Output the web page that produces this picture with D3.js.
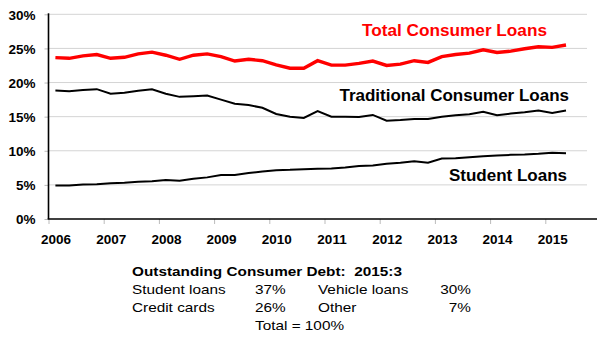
<!DOCTYPE html>
<html>
<head>
<meta charset="utf-8">
<script src="https://cdn.jsdelivr.net/npm/d3@7"></script>
<style>
  body { margin: 0; background: #fff; }
  svg { display: block; font-family: "Liberation Sans", Arial, sans-serif; }
</style>
</head>
<body>
<div id="chart"></div>
<script>
// quarterly shares of disposable income (%), 2006:1 - 2015:2
const startYear = 2006;
const total = [23.65, 23.55, 23.9, 24.1, 23.55, 23.7, 24.2, 24.45, 24.0, 23.4,
  24.0, 24.2, 23.8, 23.15, 23.4, 23.2, 22.6, 22.1, 22.1, 23.2,
  22.55, 22.55, 22.8, 23.15, 22.5, 22.7, 23.2, 22.95, 23.8, 24.1,
  24.3, 24.8, 24.4, 24.6, 24.95, 25.25, 25.15, 25.5];
const traditional = [18.84, 18.74, 18.9, 19.03, 18.35, 18.5, 18.8, 19.0, 18.35, 17.9,
  18.0, 18.1, 17.5, 16.9, 16.7, 16.3, 15.4, 15.0, 14.8, 15.8,
  15.0, 15.0, 14.95, 15.25, 14.4, 14.5, 14.65, 14.65, 15.0, 15.2,
  15.35, 15.7, 15.2, 15.45, 15.65, 15.9, 15.55, 15.9];
const student = [4.9, 4.9, 5.05, 5.1, 5.25, 5.3, 5.45, 5.55, 5.7, 5.6,
  5.9, 6.1, 6.45, 6.45, 6.75, 6.95, 7.15, 7.2, 7.3, 7.35,
  7.4, 7.55, 7.75, 7.85, 8.1, 8.25, 8.45, 8.25, 8.85, 8.9,
  9.05, 9.2, 9.3, 9.4, 9.45, 9.55, 9.7, 9.65];
const yearTicks = [2006, 2007, 2008, 2009, 2010, 2011, 2012, 2013, 2014, 2015];
const pctTicks = [0, 5, 10, 15, 20, 25, 30];
const seriesNames = ["Total Consumer Loans", "Traditional Consumer Loans", "Student Loans"];

const tableTitle = "Outstanding Consumer Debt:  2015:3";
const tableRows = [
  ["Student loans", "37%", "Vehicle loans", "30%"],
  ["Credit cards", "26%", "Other", "7%"]
];
const tableTotal = "Total = 100%";

const W = 597, H = 337;
const left = 48.5, axisY = 219, gridRight = 587;

const svg = d3.select("#chart").append("svg")
  .attr("width", W).attr("height", H);

const x = d3.scaleLinear().domain([2006, 2016]).range([left, left + 552]);
const y = d3.scaleLinear().domain([0, 30]).range([axisY, 14.3]);

// quarter midpoint
const qx = i => x(startYear + i * 0.25 + 0.125);

// gridlines
svg.append("g")
  .selectAll("line").data(pctTicks.filter(d => d > 0)).enter().append("line")
  .attr("x1", left).attr("x2", gridRight)
  .attr("y1", d => y(d)).attr("y2", d => y(d))
  .style("stroke", "#d4d4d4").style("stroke-width", 1);

// y axis
const yAxis = svg.append("g")
  .attr("transform", "translate(" + left + ",0)")
  .call(d3.axisLeft(y).tickValues(pctTicks).tickFormat(d => d + "%").tickSize(4).tickPadding(9));
yAxis.select(".domain").remove();
yAxis.selectAll(".tick line").style("stroke", "#bbb");
yAxis.selectAll("text")
  .style("font-size", "13.5px").style("font-weight", "bold").style("fill", "#000")
  .attr("dy", "0.36em");
svg.append("line")
  .attr("x1", left).attr("x2", left).attr("y1", y(30) - 1).attr("y2", axisY)
  .style("stroke", "#000").style("stroke-width", 1.6);

// x axis
const xAxis = svg.append("g")
  .attr("transform", "translate(0," + axisY + ")")
  .call(d3.axisBottom(x).tickValues(yearTicks).tickFormat(d3.format("d")).tickSize(5));
xAxis.select(".domain").remove();
xAxis.selectAll(".tick line").style("stroke", "#bbb");
xAxis.selectAll("text")
  .attr("x", 7).attr("y", 15.5)
  .style("font-size", "13.5px").style("font-weight", "bold").style("fill", "#000");
svg.append("line")
  .attr("x1", left - 0.8).attr("x2", W).attr("y1", axisY).attr("y2", axisY)
  .style("stroke", "#000").style("stroke-width", 1.6);

// lines
const line = d3.line().x((d, i) => qx(i)).y(d => y(d));
svg.append("path").datum(traditional).attr("d", line)
  .style("fill", "none").style("stroke", "#000").style("stroke-width", 2);
svg.append("path").datum(student).attr("d", line)
  .style("fill", "none").style("stroke", "#000").style("stroke-width", 2);
svg.append("path").datum(total).attr("d", line)
  .style("fill", "none").style("stroke", "#ff0000").style("stroke-width", 3.4);

// series labels
svg.append("text").attr("x", 547).attr("y", 35.5).attr("text-anchor", "end")
  .style("font-size", "17.2px").style("font-weight", "bold").style("fill", "#ff0000")
  .text(seriesNames[0]);
svg.append("text").attr("x", 569).attr("y", 100.5).attr("text-anchor", "end")
  .style("font-size", "17px").style("font-weight", "bold").style("fill", "#000")
  .text(seriesNames[1]);
svg.append("text").attr("x", 567).attr("y", 180.5).attr("text-anchor", "end")
  .style("font-size", "17px").style("font-weight", "bold").style("fill", "#000")
  .text(seriesNames[2]);

// debt composition table (text is drawn slightly wide, as in the slide)
const sx = 1.18;
const tbl = svg.append("g").style("font-size", "13px").style("fill", "#000");
function cell(px, py, txt, anchor, bold) {
  tbl.append("text")
    .attr("transform", "translate(" + px + "," + py + ") scale(" + sx + ",1)")
    .attr("text-anchor", anchor || "start")
    .style("font-weight", bold ? "bold" : "normal")
    .style("white-space", "pre")
    .text(txt);
}
cell(132, 275.5, tableTitle, "start", true);
const colX = [132, 255, 318, 471];
tableRows.forEach(function(row, r) {
  row.forEach(function(c, j) {
    cell(colX[j], 293.5 + r * 18, c, j === 3 ? "end" : "start", false);
  });
});
cell(255, 329.5, tableTotal, "start", false);
</script>
</body>
</html>
